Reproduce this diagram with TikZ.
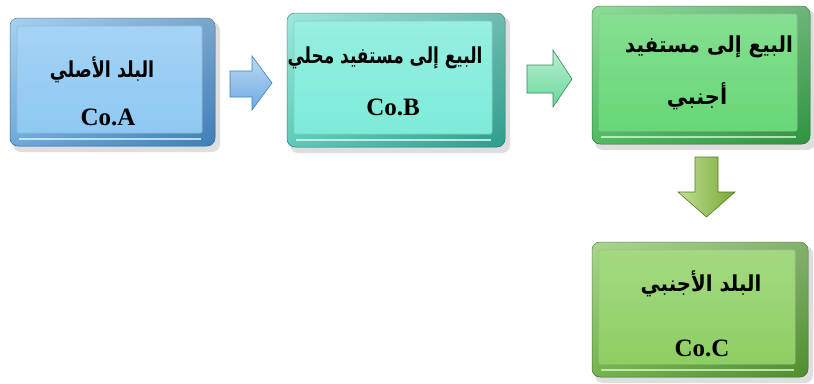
\documentclass[tikz,border=0pt]{standalone}
\usepackage{fontspec}
\setmainfont{Liberation Serif}
\newfontfamily\arabicfont[Script=Arabic]{DejaVu Sans}
\TeXXeTstate=1
\definecolor{bmain}{HTML}{8EC8F2}\definecolor{bdark}{HTML}{3F7FB8}\definecolor{blight}{HTML}{C8E6FA}
\definecolor{tmain}{HTML}{7DEBD9}\definecolor{tdark}{HTML}{2E9E8C}\definecolor{tlight}{HTML}{BFF7EE}
\definecolor{gmain}{HTML}{67D776}\definecolor{gdark}{HTML}{2F9440}\definecolor{glight}{HTML}{A8EEB0}
\definecolor{ymain}{HTML}{8DCF62}\definecolor{ydark}{HTML}{4F8F2E}\definecolor{ylight}{HTML}{C2E8A4}
\definecolor{a1}{HTML}{6BAAE2}\definecolor{a2}{HTML}{67D99A}\definecolor{a3}{HTML}{8DC63F}
\newcommand\bevelbox[7]{%
  \fill[black,opacity=0.13,rounded corners=8pt] (#1+3,#2+4) rectangle (#3+5,#4+6);
  \path[rounded corners=8pt,left color=#5!85!#6,right color=#6,draw=#6!70!black,line width=0.5pt] (#1,#2) rectangle (#3,#4);
  \path[rounded corners=8pt,top color=white,bottom color=#6,opacity=0.3] (#1,#2) rectangle (#3,#4);
  \draw[#7!60!white,line width=1.2pt,opacity=0.8] (#1+9,#4-7) -- (#3-14,#4-7);
  \path[rounded corners=2pt,top color=#5!80!white,bottom color=#5,draw=#6!55,line width=0.6pt] (#1+7,#2+8) rectangle (#3-13,#4-13);
}
\tikzset{
  atext/.style={font=\arabicfont\bfseries\fontsize{22}{28}\selectfont,inner sep=0pt,align=center},
  ltext/.style={font=\bfseries\fontsize{25}{30}\selectfont,inner sep=0pt},
  blockarrow/.style={line width=0.6pt,line join=miter}
}
\begin{document}
\begin{tikzpicture}[x=1pt,y=-1pt]
\useasboundingbox (0,0) rectangle (814,383);
% boxes
\bevelbox{10}{18}{215}{146}{bmain}{bdark}{blight}
\bevelbox{287}{13}{505}{147}{tmain}{tdark}{tlight}
\bevelbox{592}{6}{810}{144}{gmain}{gdark}{glight}
\bevelbox{592}{242}{808}{377}{ymain}{ydark}{ylight}
% texts
\node[atext] (t1) at (102,70) {\scalebox{0.8}[1]{\beginR البلد الأصلي\endR}};
\node[ltext] (c1) at (108,117) {Co.A};
\node[atext] (t2) at (385,58) {\scalebox{0.77}[1]{\beginR البيع إلى مستفيد محلي\endR}};
\node[ltext] (c2) at (393,107) {Co.B};
\node[atext] (t3) at (709,47) {\scalebox{0.91}[1]{\beginR البيع إلى مستفيد\endR}};
\node[atext] (t3b) at (697,96) {\scalebox{0.95}[1]{\beginR أجنبي\endR}};
\node[atext] (t4) at (701,284) {\scalebox{0.9}[1]{\beginR البلد الأجنبي\endR}};
\node[ltext] (c4) at (702,348) {Co.C};
% block arrows
\path[blockarrow,top color=a1!45!white,bottom color=a1,draw=bdark]
  (230,71) -- (252,71) -- (252,56) -- (272,83) -- (252,110) -- (252,97) -- (230,97) -- cycle;
\path[blockarrow,top color=a2!45!white,bottom color=a2,draw=a2!60!black]
  (527,65) -- (553,65) -- (553,50) -- (572,79) -- (553,107) -- (553,93) -- (527,93) -- cycle;
\path[blockarrow,left color=a3!55!white,right color=a3!85!black,draw=a3!60!black]
  (695,157) -- (718,157) -- (718,192) -- (735,192) -- (706.5,217) -- (678,192) -- (695,192) -- cycle;
\end{tikzpicture}
\end{document}
